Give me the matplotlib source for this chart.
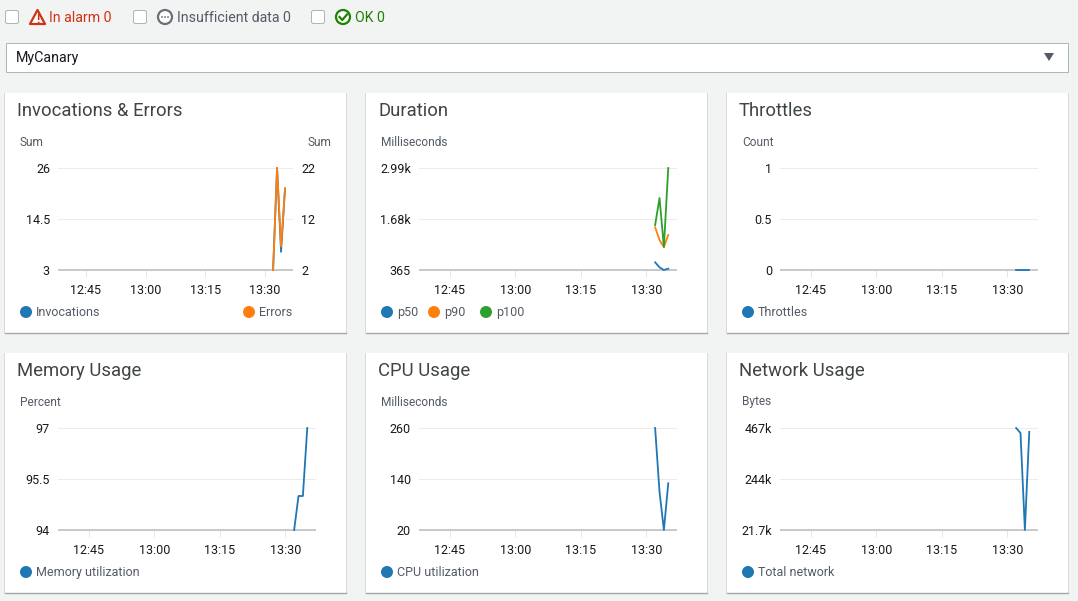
import matplotlib
matplotlib.use('Agg')
import matplotlib.pyplot as plt
from matplotlib.patches import Rectangle, FancyBboxPatch, Polygon, Circle

W, H = 1078, 601
FONT = 'Roboto'
plt.rcParams['font.family'] = [FONT, 'DejaVu Sans']

# minutes after 12:00
tick_minutes = [45, 60, 75, 90]
tick_labels = ['12:45', '13:00', '13:15', '13:30']
xlim = (38, 97)
sample_minutes = [92, 93, 94, 95]

invocations = [3, 26, 7.1, 21.4]
errors = [2, 22, 6.6, 18]
p50 = [563, 434, 365, 400]
p90 = [1464, 1137, 957, 1266]
p100 = [1523, 2218, 957, 2990]
throttles = [0, 0, 0, 0]
memory = [94, 95, 95, 97]
cpu = [260, 110, 20, 130]
network = [467000, 445000, 21700, 450000]

BLUE = '#1f77b4'
ORANGE = '#ff7f0e'
GREEN = '#2ca02c'
BG = '#f2f3f3'
TXT = '#16191f'
GREY = '#545b64'
PX = 0.72  # one pixel in points at dpi 100

fig = plt.figure(figsize=(W / 100, H / 100), dpi=100, facecolor=BG)

# overlay in pixel coords for the page chrome
page = fig.add_axes([0, 0, 1, 1])
page.set_xlim(0, W)
page.set_ylim(H, 0)
page.axis('off')


def checkbox(x):
    page.add_patch(FancyBboxPatch((x + 0.5, 10.5), 13, 13, boxstyle='round,pad=0,rounding_size=2',
                                  fc='white', ec='#aab7b8', lw=PX))


checkbox(5)
checkbox(133)
checkbox(311)

# alarm icon
page.add_patch(Polygon([[37.5, 10], [30, 24], [45, 24]], closed=True, fc='white', ec='#d13212', lw=1.6, joinstyle='round'))
page.text(37.5, 19.5, '!', color='#d13212', fontsize=8.5, fontweight='bold', ha='center', va='center')
page.text(49, 18, 'In alarm 0', color='#d13212', fontsize=10.2, va='center')
# insufficient data icon
page.add_patch(Circle((165, 17), 7, fc='white', ec='#687078', lw=1.6))
for dx in (-3, 0, 3):
    page.add_patch(Circle((165 + dx, 17), 0.9, fc='#687078', ec='none'))
page.text(177, 18, 'Insufficient data 0', color=GREY, fontsize=10.2, va='center')
# ok icon
page.add_patch(Circle((343, 17), 7, fc='white', ec='#1d8102', lw=1.6))
page.plot([339.5, 342.3, 347], [17, 20, 14.5], color='#1d8102', lw=1.6)
page.text(355, 18, 'OK 0', color='#1d8102', fontsize=10.2, va='center')

# dropdown
page.add_patch(Rectangle((5.5, 42.5), 1062, 29, fc='white', ec='#aab7b8', lw=PX))
page.text(16, 58, 'MyCanary', color=TXT, fontsize=10.3, va='center')
page.add_patch(Polygon([[1044, 53], [1054, 53], [1049, 61]], closed=True, fc=GREY, ec='none'))


def make_card(x, y, title, unit, series, ticks, tick_text, ylim, right=None, legend_x=None):
    # shadow then card
    page.add_patch(Rectangle((x - 1, y), 343, 240, fc='#a9adae', ec='none', alpha=0.35))
    page.add_patch(Rectangle((x, y), 341, 239.5, fc='white', ec='none'))
    page.plot([x, x + 341], [y + 239.5, y + 239.5], color='#a4a8a9', lw=1)
    page.text(x + 12, y + 17.5, title, color='#3f4447', fontsize=13.3, va='center')
    page.text(x + 15, y + 49, unit, color=GREY, fontsize=8.6, va='center')

    ax_w = 235 if right else 258
    ax = fig.add_axes([(x + 53) / W, 1 - (y + 177) / H, ax_w / W, 102 / H])
    ax.set_facecolor('none')
    ax.set_xlim(*xlim)
    ax.set_ylim(*ylim)
    ax.set_xticks(tick_minutes, tick_labels)
    ax.set_yticks(ticks, tick_text)
    ax.tick_params(axis='x', length=5, color='#e6e6e6', width=PX, pad=5.4, labelsize=9, labelcolor=TXT)
    ax.tick_params(axis='y', length=0, pad=5.8, labelsize=9, labelcolor=TXT)
    ax.grid(axis='y', color='#ebebeb', lw=PX)
    for s in ('top', 'left', 'right'):
        ax.spines[s].set_visible(False)
    ax.spines['bottom'].set_color('#c8c8c8')
    ax.spines['bottom'].set_linewidth(1.4)
    ax.spines['bottom'].set_capstyle('butt')

    for values, color, label in series:
        ax.plot(sample_minutes, values, color=color, lw=1.3, clip_on=False, zorder=3)

    offsets = legend_x or [0]
    for (values, color, label), dx in zip(series, offsets):
        page.add_patch(Circle((x + 21 + dx, y + 219), 6, fc=color, ec='none'))
        page.text(x + 31 + dx, y + 219.5, label, color=GREY, fontsize=9, va='center')

    if right:
        rax = ax.twinx()
        rax.set_facecolor('none')
        rax.set_ylim(*right['ylim'])
        rax.set_yticks(right['ticks'], right['text'])
        rax.tick_params(axis='y', length=0, pad=5.8, labelsize=9, labelcolor=TXT)
        for s in rax.spines.values():
            s.set_visible(False)
        rax.plot(sample_minutes, right['values'], color=ORANGE, lw=1.3, clip_on=False, zorder=3)
        page.text(x + 303, y + 49, right['unit'], color=GREY, fontsize=8.6, va='center')
        page.add_patch(Circle((x + 244, y + 219), 6, fc=ORANGE, ec='none'))
        page.text(x + 254, y + 219.5, right['label'], color=GREY, fontsize=9, va='center')
    return ax


make_card(5, 93, 'Invocations & Errors', 'Sum', [(invocations, BLUE, 'Invocations')],
          [3, 14.5, 26], ['3', '14.5', '26'], (3, 26),
          right={'ylim': (2, 22), 'ticks': [2, 12, 22], 'text': ['2', '12', '22'], 'values': errors,
                 'unit': 'Sum', 'label': 'Errors'})
make_card(366, 93, 'Duration', 'Milliseconds', [(p50, BLUE, 'p50'), (p90, ORANGE, 'p90'), (p100, GREEN, 'p100')],
          [365, 1677.5, 2990], ['365', '1.68k', '2.99k'], (365, 2990), legend_x=[0, 47, 99])
make_card(727, 93, 'Throttles', 'Count', [(throttles, BLUE, 'Throttles')],
          [0, 0.5, 1], ['0', '0.5', '1'], (0, 1))
make_card(5, 353, 'Memory Usage', 'Percent', [(memory, BLUE, 'Memory utilization')],
          [94, 95.5, 97], ['94', '95.5', '97'], (94, 97))
make_card(366, 353, 'CPU Usage', 'Milliseconds', [(cpu, BLUE, 'CPU utilization')],
          [20, 140, 260], ['20', '140', '260'], (20, 260))
make_card(727, 353, 'Network Usage', 'Bytes', [(network, BLUE, 'Total network')],
          [21700, 244000, 467000], ['21.7k', '244k', '467k'], (21700, 467000))

fig.savefig('out.png', dpi=100, facecolor=BG)
